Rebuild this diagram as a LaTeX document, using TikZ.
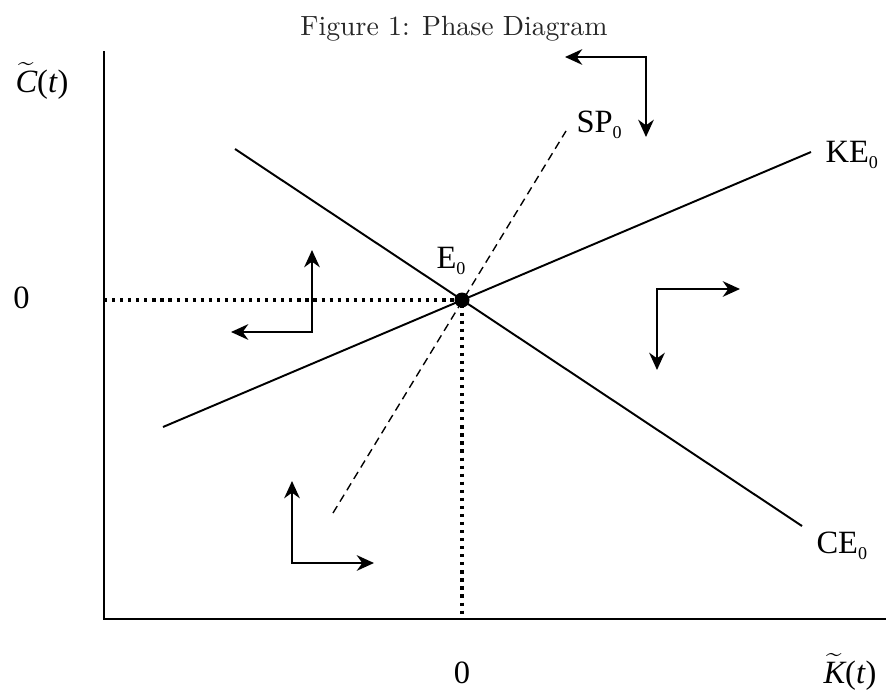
\documentclass[tikz,border=0pt]{standalone}
\usepackage{fontspec}
\newfontfamily\labfont{Liberation Serif}
\usetikzlibrary{arrows.meta}
\newcommand\zsub{\raisebox{-2.3pt}{\fontsize{6.5}{7}\selectfont 0}}
\newcommand\tlet[1]{$\widetilde{\hbox{\labfont\itshape #1}}$}
\begin{document}
\begin{tikzpicture}[x=0.36pt,y=-0.36pt,
  lab/.style={inner sep=0pt,font=\labfont\fontsize{11.7}{13}\selectfont},
  axis/.style={line width=0.8pt},
  locus/.style={line width=0.7pt},
  guide/.style={line width=1.15pt,dash pattern=on 1.15pt off 1.75pt},
  saddle/.style={line width=0.5pt,dash pattern=on 2.9pt off 1.9pt},
  flow/.style={line width=0.9pt,{Stealth[length=6.2pt,width=5.6pt,inset=2pt]}-{Stealth[length=6.2pt,width=5.6pt,inset=2pt]}},
  dot/.style={circle,fill=black,inner sep=0pt,minimum size=5.4pt}]
\useasboundingbox (0,0) rectangle (886,692);
% title
\node[anchor=base,inner sep=0pt,text=black!85] (title) at (454,35) {Figure 1: Phase Diagram};
% axes
\coordinate (ytop) at (104,51);
\coordinate (O) at (104,619);
\coordinate (xend) at (886,619);
\draw[axis] (ytop) -- (O) -- (xend);
% equilibrium
\coordinate (Ec) at (462,300);
\coordinate (yz) at (104,300);
\coordinate (xz) at (462,619);
\draw[guide] (yz) -- (Ec) -- (xz);
% loci
\coordinate (ce1) at (235,149);
\coordinate (ce2) at (802,526);
\coordinate (ke1) at (163,427);
\coordinate (ke2) at (811,152);
\coordinate (sp1) at (333,513);
\coordinate (sp2) at (566,131);
\draw[locus] (ce1) -- (ce2);
\draw[locus] (ke1) -- (ke2);
\draw[saddle] (sp1) -- (sp2);
\node[dot] (E) at (Ec) {};
% labels
\node[lab,anchor=base west] (Cl) at (15,92) {\tlet{C}(\textit{t})};
\node[lab,anchor=base] (zy) at (21.5,308) {0};
\node[lab,anchor=base] (zx) at (462,683) {0};
\node[lab,anchor=base west] (Kl) at (823,683) {\tlet{K}(\textit{t})};
\node[lab,anchor=base west] (El) at (436,268) {E\zsub};
\node[lab,anchor=base west] (SPl) at (576,132) {SP\zsub};
\node[lab,anchor=base west] (KEl) at (825,162) {KE\zsub};
\node[lab,anchor=base west] (CEl) at (816,553) {CE\zsub};
% direction arrows
\coordinate (a1) at (565,57);  \coordinate (c1) at (646,57);  \coordinate (b1) at (646,137);
\coordinate (a2) at (312,250); \coordinate (c2) at (312,332); \coordinate (b2) at (231,332);
\coordinate (a3) at (740,289); \coordinate (c3) at (657,289); \coordinate (b3) at (657,370);
\coordinate (a4) at (292,481); \coordinate (c4) at (292,563); \coordinate (b4) at (374,563);
\draw[flow] (a1) -- (c1) -- (b1);
\draw[flow] (a2) -- (c2) -- (b2);
\draw[flow] (a3) -- (c3) -- (b3);
\draw[flow] (a4) -- (c4) -- (b4);
\end{tikzpicture}
\end{document}
